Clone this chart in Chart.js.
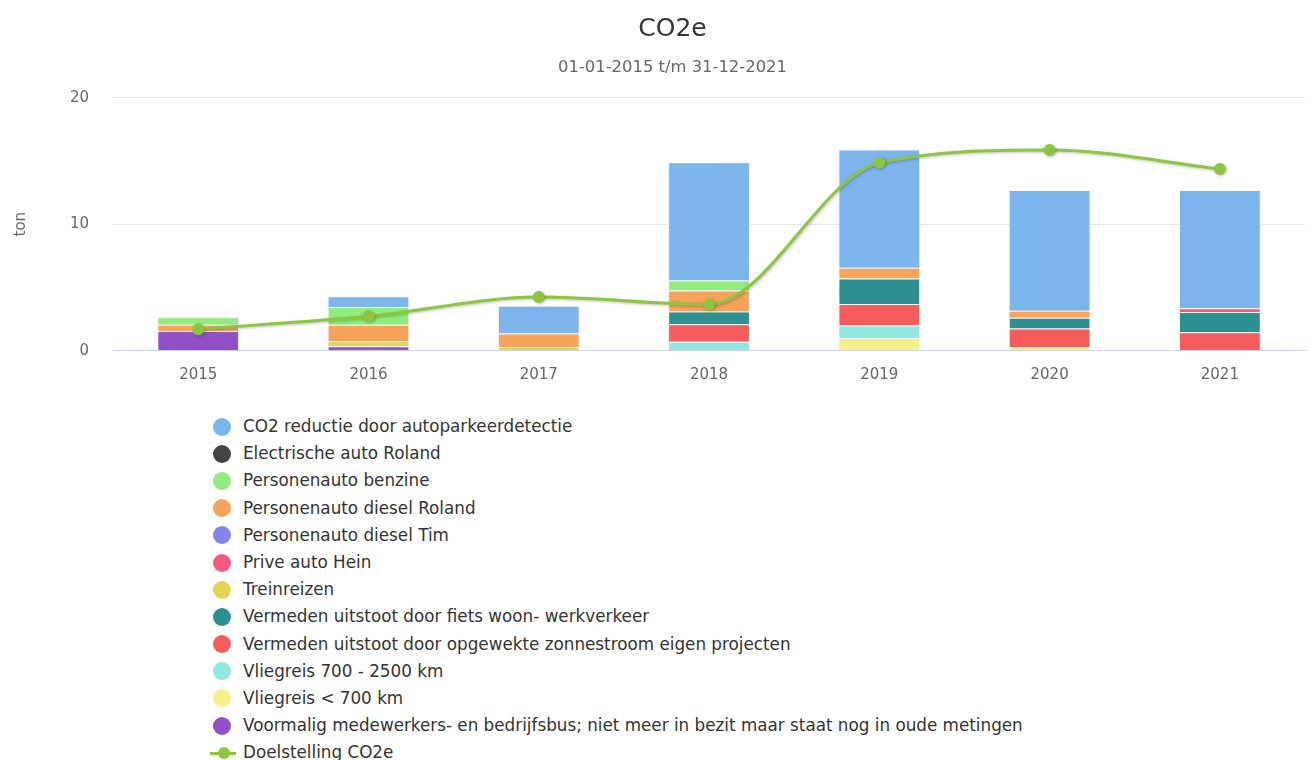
<!DOCTYPE html>
<html>
<head>
<meta charset="utf-8">
<script src="https://cdn.jsdelivr.net/npm/chart.js@4.4.1/dist/chart.umd.min.js"></script>
<style>
  html, body { margin: 0; padding: 0; background: #ffffff; width: 1311px; height: 760px; overflow: hidden; }
  #wrap { position: relative; width: 1311px; height: 400px; }
  #legend { position: absolute; left: 212px; top: 413px; font-family: 'DejaVu Sans', sans-serif; font-size: 16.8px; color: #333333; }
  .item { position: relative; height: 27.2px; line-height: 27.2px; white-space: nowrap; }
  .dot { position: absolute; left: 1px; top: 4.6px; width: 18px; height: 18px; border-radius: 50%; }
  .ln { position: absolute; left: -2px; top: 12.6px; width: 26px; height: 3px; }
  .ln .c { position: absolute; left: 8px; top: -4.5px; width: 12px; height: 12px; border-radius: 50%; }
  .txt { position: absolute; left: 31px; top: 0; }
</style>
</head>
<body>
<div id="wrap"><canvas id="c" width="1311" height="400"></canvas></div>
<div id="legend"></div>
<script>
// ---- data ----
const years = ['2015', '2016', '2017', '2018', '2019', '2020', '2021'];
const co2Reductie      = [0,    0.85, 2.2,  9.35, 9.35, 9.55, 9.35];
const electrischeAuto  = [0,    0,    0,    0,    0,    0,    0];
const benzine          = [0.6,  1.4,  0,    0.8,  0,    0,    0];
const dieselRoland     = [0.5,  1.3,  1.05, 1.65, 0.85, 0.55, 0];
const dieselTim        = [0,    0,    0,    0,    0,    0,    0];
const priveHein        = [0,    0,    0,    0,    0,    0,    0.3];
const treinreizen      = [0,    0.4,  0.3,  0,    0,    0,    0];
const fiets            = [0,    0,    0,    1.0,  2.0,  0.85, 1.6];
const zonnestroom      = [0,    0,    0,    1.4,  1.7,  1.45, 1.45];
const vlieg700_2500    = [0,    0,    0,    0.7,  1.0,  0,    0];
const vliegOnder700    = [0,    0,    0,    0,    1.0,  0.3,  0];
const voormalig        = [1.55, 0.35, 0,    0,    0,    0,    0];
const doelstelling     = [1.7,  2.72, 4.24, 3.65, 14.85, 15.86, 14.37];
const yTicks = [0, 10, 20];

const barSeries = [
  { label: 'CO2 reductie door autoparkeerdetectie', data: co2Reductie, color: '#7cb5ec' },
  { label: 'Electrische auto Roland', data: electrischeAuto, color: '#434348' },
  { label: 'Personenauto benzine', data: benzine, color: '#90ed7d' },
  { label: 'Personenauto diesel Roland', data: dieselRoland, color: '#f7a35c' },
  { label: 'Personenauto diesel Tim', data: dieselTim, color: '#8085e9' },
  { label: 'Prive auto Hein', data: priveHein, color: '#f15c80' },
  { label: 'Treinreizen', data: treinreizen, color: '#e4d354' },
  { label: 'Vermeden uitstoot door fiets woon- werkverkeer', data: fiets, color: '#2b908f' },
  { label: 'Vermeden uitstoot door opgewekte zonnestroom eigen projecten', data: zonnestroom, color: '#f45b5b' },
  { label: 'Vliegreis 700 - 2500 km', data: vlieg700_2500, color: '#91e8e1' },
  { label: 'Vliegreis < 700 km', data: vliegOnder700, color: '#f6f08a' },
  { label: 'Voormalig medewerkers- en bedrijfsbus; niet meer in bezit maar staat nog in oude metingen', data: voormalig, color: '#9150c6' }
];
const lineSeries = { label: 'Doelstelling CO2e', data: doelstelling, color: '#8cc63f' };

const FONT = "'DejaVu Sans', sans-serif";

// Highcharts-style stacking: first series on top, so reverse for Chart.js
const datasets = barSeries.slice().reverse().map(s => ({
  type: 'bar',
  label: s.label,
  data: s.data.map(v => v === 0 ? null : v),
  backgroundColor: s.color,
  borderColor: '#ffffff',
  borderWidth: 1,
  stack: 's',
  order: 1,
  barPercentage: 0.48,
  categoryPercentage: 1
}));
datasets.push({
  type: 'line',
  label: lineSeries.label,
  data: lineSeries.data,
  borderColor: lineSeries.color,
  backgroundColor: lineSeries.color,
  pointBackgroundColor: lineSeries.color,
  pointBorderColor: lineSeries.color,
  pointBorderWidth: 0,
  borderWidth: 3,
  pointRadius: 6,
  pointHoverRadius: 6,
  cubicInterpolationMode: 'monotone',
  fill: false,
  order: 0
});

const shadowPlugin = {
  id: 'shadow',
  afterLayout(chart) {
    // shift the title/subtitle blocks slightly right, as in the reference
    chart.boxes.forEach(b => {
      if (b.options && typeof b.options.text === 'string' && b.options.text.length) {
        b.left += 23;
      }
    });
  },
  beforeDatasetDraw(chart, args) {
    const ds = chart.data.datasets[args.index];
    const ctx = chart.ctx;
    ctx.save();
    if (ds.type === 'line') {
      ctx.shadowColor = 'rgba(0,0,0,0.25)';
      ctx.shadowBlur = 3;
      ctx.shadowOffsetX = 1;
      ctx.shadowOffsetY = 1;
    } else {
      ctx.shadowColor = 'rgba(0,0,0,0.12)';
      ctx.shadowBlur = 3;
      ctx.shadowOffsetX = 0;
      ctx.shadowOffsetY = 0;
    }
  },
  afterDatasetDraw(chart) {
    chart.ctx.restore();
  }
};

const chart = new Chart(document.getElementById('c'), {
  data: { labels: years, datasets },
  plugins: [shadowPlugin],
  options: {
    responsive: false,
    animation: false,
    layout: { padding: { left: 12, right: 1, top: 0, bottom: 1.3 } },
    plugins: {
      legend: { display: false },
      tooltip: { enabled: false },
      title: {
        display: true,
        text: 'CO2e',
        color: '#333333',
        font: { family: FONT, size: 25, weight: 'normal' },
        padding: { top: 14, bottom: 14 }
      },
      subtitle: {
        display: true,
        text: '01-01-2015 t/m 31-12-2021',
        color: '#666666',
        font: { family: FONT, size: 16.4 },
        padding: { top: 0, bottom: 20 }
      }
    },
    scales: {
      x: {
        stacked: true,
        grid: { display: false, drawTicks: false },
        border: { display: true, color: '#ccd6eb', width: 1 },
        ticks: { color: '#666666', font: { family: FONT, size: 15 }, padding: 15 }
      },
      y: {
        stacked: true,
        min: 0,
        max: 20,
        afterBuildTicks(axis) { axis.ticks = yTicks.map(v => ({ value: v })); },
        grid: { color: '#e6e6e6', drawTicks: false },
        border: { display: false },
        ticks: { color: '#666666', font: { family: FONT, size: 15 }, padding: 24 },
        title: { display: true, text: 'ton', color: '#666666', font: { family: FONT, size: 15 }, padding: { top: 0, bottom: 16 } }
      }
    }
  }
});

// HTML legend built from the series list (one item per row)
const legend = document.getElementById('legend');
barSeries.concat([lineSeries]).forEach((s) => {
  const row = document.createElement('div');
  row.className = 'item';
  if (s === lineSeries) {
    row.innerHTML = '<span class="ln" style="background:' + s.color + '"><span class="c" style="background:' + s.color + '"></span></span>';
  } else {
    row.innerHTML = '<span class="dot" style="background:' + s.color + '"></span>';
  }
  const t = document.createElement('span');
  t.className = 'txt';
  t.textContent = s.label;
  row.appendChild(t);
  legend.appendChild(row);
});
</script>
</body>
</html>
